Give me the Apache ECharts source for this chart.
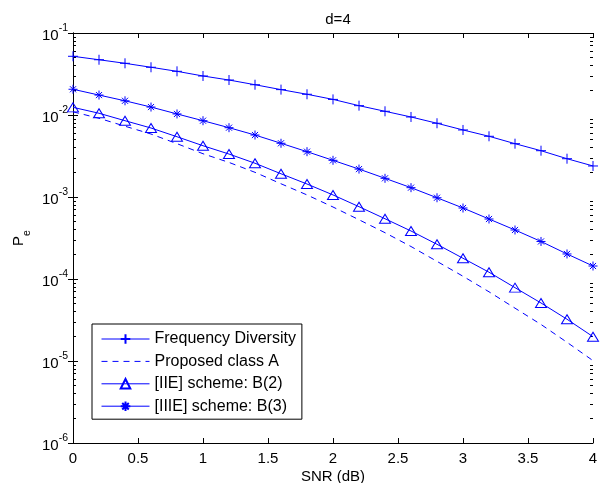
<!DOCTYPE html>
<html>
<head>
<meta charset="utf-8">
<script src="https://cdn.jsdelivr.net/npm/echarts@6/dist/echarts.min.js"></script>
<style>
  html, body { margin: 0; padding: 0; background: #fff; }
  #chart { width: 600px; height: 483px; }
</style>
</head>
<body>
<div id="chart"></div>
<script>
// SNR sweep (dB)
const snr = [0, 0.2, 0.4, 0.6, 0.8, 1.0, 1.2, 1.4, 1.6, 1.8, 2.0,
             2.2, 2.4, 2.6, 2.8, 3.0, 3.2, 3.4, 3.6, 3.8, 4.0];

// Error probability per scheme
const freqDiversity = [0.0520, 0.0472, 0.0427, 0.0382, 0.0341, 0.0299, 0.0267, 0.0234, 0.0204, 0.0179, 0.0155,
                       0.0130, 0.0111, 0.00946, 0.00793, 0.00657, 0.00550, 0.00447, 0.00367, 0.00293, 0.00239];
const classA = [0.01094, 0.00912, 0.00730, 0.00586, 0.00447, 0.00337, 0.00264, 0.00200, 0.00145, 0.00106, 0.000755,
                0.000528, 0.000367, 0.000249, 0.000164, 0.000108, 6.98e-5, 4.41e-5, 2.79e-5, 1.69e-5, 1.01e-5];
const schemeB2 = [0.0124, 0.0105, 0.00852, 0.00694, 0.00543, 0.00422, 0.00334, 0.00258, 0.00192, 0.00144, 0.00106,
                  0.000762, 0.000543, 0.000385, 0.000265, 0.000179, 0.000121, 7.84e-5, 5.10e-5, 3.23e-5, 1.98e-5];
const schemeB3 = [0.0206, 0.0175, 0.0149, 0.0125, 0.0103, 0.00852, 0.00700, 0.00570, 0.00452, 0.00357, 0.00280,
                  0.00219, 0.00169, 0.00130, 0.000979, 0.000734, 0.000539, 0.000396, 0.000287, 0.000202, 0.000144];

const seriesNames = ['Frequency Diversity', 'Proposed class A', '[IIE] scheme: B(2)', '[IIIE] scheme: B(3)'];
const yDecades = [-6, -5, -4, -3, -2, -1];

const FONT = '"Liberation Sans", Arial, Helvetica, sans-serif';
const BLUE = '#0000ff';

// minor log ticks (2..9 within each decade), expressed as log10 values
const minorLog = [];
for (let k = yDecades[0]; k < yDecades[yDecades.length - 1]; k++) {
  for (let m = 2; m <= 9; m++) minorLog.push(k + Math.log10(m));
}

const pairs = ys => snr.map((x, i) => [x, ys[i]]);

const PLUS = 'path://M0,5L10,5M5,0L5,10';
const STAR = 'path://M0,5L10,5M5,0L5,10M1.6,1.6L8.4,8.4M8.4,1.6L1.6,8.4';

const chart = echarts.init(document.getElementById('chart'), null, { renderer: 'canvas' });

const superLabel = v => {
  const e = Math.round(Math.log10(v));
  return '{b|10}{s|' + e + '}';
};

const tickRich = {
  b: { fontSize: 15, fontFamily: FONT, color: '#000', lineHeight: 20, verticalAlign: 'bottom' },
  s: { fontSize: 10.5, fontFamily: FONT, color: '#000', verticalAlign: 'top' }
};

const lineSeries = (name, data, extra) => Object.assign({
  name: name,
  type: 'line',
  data: pairs(data),
  xAxisIndex: 0,
  yAxisIndex: 0,
  color: BLUE,
  lineStyle: { color: BLUE, width: 1 },
  showSymbol: true,
  emphasis: { disabled: true },
  animation: false,
  z: 3
}, extra);

const tickStyle = { color: '#000', width: 1 };

chart.setOption({
  backgroundColor: '#fff',
  animation: false,
  title: {
    text: 'd=4',
    left: 333,
    top: 7,
    textAlign: 'center',
    textStyle: { fontSize: 15, fontWeight: 'normal', fontFamily: FONT, color: '#000' }
  },
  grid: { left: 73, right: 7, top: 33, bottom: 40, containLabel: false, outerBoundsMode: 'none' },
  legend: {
    orient: 'vertical',
    left: 92,
    top: 324,
    data: [
      { name: seriesNames[0] },
      { name: seriesNames[1], itemStyle: { opacity: 0 } },
      { name: seriesNames[2] },
      { name: seriesNames[3] }
    ],
    itemWidth: 48,
    itemHeight: 12,
    itemGap: 6.4,
    padding: [7, 6, 5, 9],
    lineStyle: { width: 1 },
    backgroundColor: '#fff',
    borderColor: '#000',
    borderWidth: 1,
    borderRadius: 0,
    textStyle: { fontSize: 16, fontFamily: FONT, color: '#000' },
    selectedMode: false
  },
  xAxis: [
    {
      type: 'value', min: 0, max: 4, interval: 0.5, position: 'bottom',
      name: 'SNR (dB)', nameLocation: 'middle', nameGap: 26, nameMoveOverlap: false,
      nameTextStyle: { fontSize: 15, fontFamily: FONT, color: '#000' },
      axisLine: { show: true, lineStyle: tickStyle },
      axisTick: { show: true, inside: true, length: 5, lineStyle: tickStyle },
      axisLabel: { show: true, margin: 8, fontSize: 15, fontFamily: FONT, color: '#000',
                   formatter: v => String(v) },
      splitLine: { show: false }
    },
    {
      type: 'value', min: 0, max: 4, interval: 0.5, position: 'top',
      axisLine: { show: true, lineStyle: tickStyle },
      axisTick: { show: true, inside: true, length: 5, lineStyle: tickStyle },
      axisLabel: { show: false },
      splitLine: { show: false }
    }
  ],
  yAxis: [
    {
      type: 'log', logBase: 10, min: 1e-6, max: 1e-1, interval: 1, position: 'left',
      name: '{p|P}{e|e}', nameLocation: 'middle', nameGap: 40, nameRotate: 90, nameMoveOverlap: false,
      nameTextStyle: {
        rich: {
          p: { fontSize: 15, fontFamily: FONT, color: '#000', lineHeight: 22, verticalAlign: 'top' },
          e: { fontSize: 10.5, fontFamily: FONT, color: '#000', verticalAlign: 'bottom' }
        }
      },
      axisLine: { show: true, lineStyle: tickStyle },
      axisTick: { show: true, inside: true, length: 5, lineStyle: tickStyle },
      axisLabel: { show: true, margin: 5, formatter: superLabel, rich: tickRich },
      splitLine: { show: false }
    },
    {
      type: 'log', logBase: 10, min: 1e-6, max: 1e-1, interval: 1, position: 'right',
      axisLine: { show: true, lineStyle: tickStyle },
      axisTick: { show: true, inside: true, length: 5, lineStyle: tickStyle },
      axisLabel: { show: false },
      splitLine: { show: false }
    },
    {
      // minor ticks, left side (log10 units)
      type: 'value', min: -6, max: -1, position: 'left',
      axisLine: { show: false },
      axisTick: { show: true, inside: true, length: 3, customValues: minorLog, lineStyle: tickStyle },
      axisLabel: { show: false },
      splitLine: { show: false }
    },
    {
      // minor ticks, right side (log10 units)
      type: 'value', min: -6, max: -1, position: 'right',
      axisLine: { show: false },
      axisTick: { show: true, inside: true, length: 3, customValues: minorLog, lineStyle: tickStyle },
      axisLabel: { show: false },
      splitLine: { show: false }
    }
  ],
  series: [
    lineSeries(seriesNames[0], freqDiversity, {
      symbol: PLUS, symbolSize: 10,
      itemStyle: { color: BLUE, borderColor: BLUE, borderWidth: 1 }
    }),
    lineSeries(seriesNames[1], classA, {
      symbol: 'none',
      lineStyle: { color: BLUE, width: 1, type: [6, 5] }
    }),
    lineSeries(seriesNames[2], schemeB2, {
      symbol: 'triangle', symbolSize: [11, 9],
      itemStyle: { color: 'rgba(255,255,255,0)', borderColor: BLUE, borderWidth: 1 }
    }),
    lineSeries(seriesNames[3], schemeB3, {
      symbol: STAR, symbolSize: 9,
      itemStyle: { color: BLUE, borderColor: BLUE, borderWidth: 1 }
    })
  ]
});
</script>
</body>
</html>
